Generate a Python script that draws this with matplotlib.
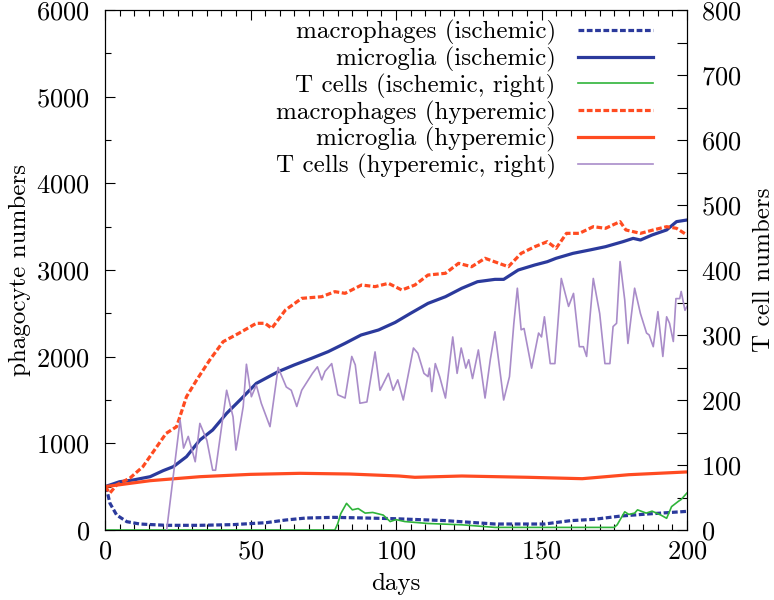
import matplotlib
matplotlib.use("Agg")
import matplotlib.pyplot as plt
from matplotlib.ticker import MultipleLocator

plt.rcParams["font.family"] = ["cmr10", "DejaVu Serif"]
plt.rcParams["mathtext.fontset"] = "cm"
plt.rcParams["axes.formatter.use_mathtext"] = True

BLUE = "#2b3a9c"
ORANGE = "#ff4b21"
GREEN = "#2fb43a"
PURPLE = "#a98cc9"

# macrophages (ischemic)
mac_isc_days = [0, 0.5, 1.7, 4, 7.5, 12, 21, 32.6, 44, 55.5, 62, 69, 78.5, 90, 99,
                117, 134, 151, 160, 168, 177.5, 186.6, 200]
mac_isc = [500, 480, 308, 173, 96, 69, 54, 54, 62, 85, 115, 138, 146, 138, 131,
           108, 69, 69, 108, 123, 162, 185, 215]

# microglia (ischemic)
mic_isc_days = [0, 5, 9.7, 15.5, 20, 23.5, 28, 32.6, 37, 41.8, 46.4, 52, 59.5, 65, 71,
                76.7, 82.5, 88, 94, 99.7, 105, 111, 117, 122.6, 128, 134, 137, 142,
                147.7, 152, 155, 160.8, 166.6, 172, 178, 181.5, 184, 188, 193, 196.4, 200]
mic_isc = [500, 557, 577, 615, 685, 731, 846, 1038, 1154, 1346, 1500, 1692, 1827, 1904,
           1981, 2058, 2154, 2250, 2308, 2395, 2500, 2615, 2692, 2789, 2865, 2892, 2892,
           3000, 3058, 3096, 3135, 3192, 3231, 3269, 3327, 3365, 3346, 3404, 3462, 3558, 3577]

# T cells (ischemic, right axis)
tc_isc_days = [0, 79, 80, 81, 83, 85, 87, 89.4, 92, 95.6, 98, 100, 103, 111, 122.6, 134,
               145, 157, 168, 175, 176, 178.6, 180, 182, 183, 186, 188, 191, 193, 194.7,
               197, 198, 200]
tc_isc = [0, 0, 10, 25, 41, 31, 33, 26, 27, 23, 13, 16, 13, 10, 8, 4,
          4, 4, 4, 4, 8, 28, 24, 26, 31, 26, 29, 23, 18, 36, 44, 47, 57]

# macrophages (hyperemic)
mac_hyp_days = [0, 1.7, 4, 8.6, 13, 17.8, 21, 24.6, 28, 31.5, 36, 40.6, 46, 52, 55, 57.3,
                62, 67.6, 74.5, 79, 82.5, 88.2, 92.8, 97.4, 102, 106.5, 111, 117, 121.5,
                126, 130.6, 138.6, 143, 147.7, 152, 155, 158.6, 163, 167.8, 172, 177, 179,
                184, 188.4, 193, 196.4, 200]
mac_hyp = [500, 427, 520, 600, 730, 961, 1115, 1192, 1538, 1731, 1962, 2173, 2270, 2385,
           2385, 2327, 2538, 2673, 2692, 2750, 2731, 2827, 2808, 2846, 2769, 2827, 2942,
           2962, 3077, 3038, 3135, 3038, 3192, 3269, 3327, 3250, 3423, 3423, 3500, 3481,
           3558, 3462, 3423, 3462, 3500, 3481, 3404]

# microglia (hyperemic)
mic_hyp_days = [0, 15.5, 32.6, 50, 67, 84, 101, 106.5, 122.6, 145.5, 164, 180, 200]
mic_hyp = [500, 569, 615, 642, 654, 646, 623, 608, 623, 608, 592, 638, 670]

# T cells (hyperemic, right axis)
tc_hyp_days = [21.2, 25.8, 27, 28.6, 31, 32.6, 35, 37, 38, 41.8, 44, 45, 47.5, 48.6, 50.3,
               52, 53.7, 56.7, 59.5, 62.3, 64, 65.9, 67.6, 71.3, 73, 74.5, 75.6, 77.9, 80,
               82.5, 84.8, 86, 87.6, 90, 92.8, 94.5, 97.4, 99, 100.6, 102.5, 106, 107.5,
               109.6, 111, 111.5, 112.3, 113.5, 115, 117, 119.5, 121, 122.4, 124, 125,
               126.3, 128.3, 130.6, 132.4, 134, 135.6, 137, 139, 140.5, 141.7, 143, 144,
               146.6, 149, 150, 151, 153, 154.6, 156.8, 158.6, 159.3, 161, 163, 164.4,
               165.5, 167.8, 170, 171.8, 173.5, 174.6, 175.8, 177, 178.6, 179.7, 182, 184,
               186.1, 187, 188.4, 190, 191.7, 193, 194, 195.3, 196.2, 197.5, 198, 199.3, 200]
tc_hyp = [0, 169, 126, 144, 105, 164, 138, 92, 92, 215, 174, 123, 190, 255, 205,
          223, 195, 159, 250, 220, 215, 190, 215, 241, 251, 231, 244, 256, 208,
          203, 267, 254, 195, 197, 274, 215, 241, 215, 231, 200, 280, 272,
          241, 236, 249, 213, 256, 236, 203, 297, 241, 280, 249, 262,
          233, 277, 203, 262, 305, 249, 200, 236, 318, 372, 308, 310,
          249, 303, 297, 328, 256, 256, 387, 356, 344, 364, 282, 282,
          267, 387, 333, 256, 256, 313, 318, 413, 354, 287, 372, 333,
          303, 300, 282, 336, 267, 328, 318, 290, 356, 356, 367, 338, 344]

FS = 18
TICK_FS = 19
DASH = (0, (1.8, 0.8))

fig = plt.figure(figsize=(7.74, 6.0), dpi=100)
ax = fig.add_axes([105 / 774, 70 / 600, 582 / 774, 520 / 600])
ax2 = ax.twinx()

l1, = ax.plot(mac_isc_days, mac_isc, color=BLUE, lw=2.3, ls=DASH, dash_capstyle="butt")
l2, = ax.plot(mic_isc_days, mic_isc, color=BLUE, lw=2.3)
l4, = ax.plot(mac_hyp_days, mac_hyp, color=ORANGE, lw=2.3, ls=DASH, dash_capstyle="butt")
l5, = ax.plot(mic_hyp_days, mic_hyp, color=ORANGE, lw=2.3)
l3, = ax2.plot(tc_isc_days, tc_isc, color=GREEN, lw=1.2)
l6, = ax2.plot(tc_hyp_days, tc_hyp, color=PURPLE, lw=1.2)

ax.set_xlim(0, 200)
ax.set_ylim(0, 6000)
ax2.set_ylim(0, 800)

ax.xaxis.set_major_locator(MultipleLocator(50))
ax.xaxis.set_minor_locator(MultipleLocator(5))
ax.yaxis.set_major_locator(MultipleLocator(1000))
ax.yaxis.set_minor_locator(MultipleLocator(500))
ax2.yaxis.set_major_locator(MultipleLocator(100))
ax2.yaxis.set_minor_locator(MultipleLocator(50))

ax.tick_params(which="both", direction="in", top=True, right=False, width=0.8,
               labelsize=TICK_FS)
ax.tick_params(which="major", length=7)
ax.tick_params(which="minor", length=4)
ax.tick_params(axis="y", pad=11)
ax.tick_params(axis="x", pad=7)
ax2.tick_params(which="both", direction="in", width=0.8, labelsize=TICK_FS, pad=10)
ax2.tick_params(which="major", length=7)
ax2.tick_params(which="minor", length=7)

ax.set_xlabel("days", fontsize=FS)
ax.set_ylabel("phagocyte numbers", fontsize=FS)
ax2.set_ylabel("T cell numbers", fontsize=FS)
ax.xaxis.set_label_coords(0.5, -0.083)
ax.yaxis.set_label_coords(-0.127, 0.5)
ax2.yaxis.set_label_coords(1.113, 0.5)

handles = [l1, l2, l3, l4, l5, l6]
labels = ["macrophages (ischemic)", "microglia (ischemic)", "T cells (ischemic, right)",
          "macrophages (hyperemic)", "microglia (hyperemic)", "T cells (hyperemic, right)"]
ax2.legend(handles, labels, loc="upper right", bbox_to_anchor=(0.959, 1.0),
           frameon=False, markerfirst=False, fontsize=FS, handlelength=3.0,
           handletextpad=0.9, labelspacing=0.07, borderaxespad=0.0, borderpad=0.4)

fig.savefig("out.png", dpi=100)
